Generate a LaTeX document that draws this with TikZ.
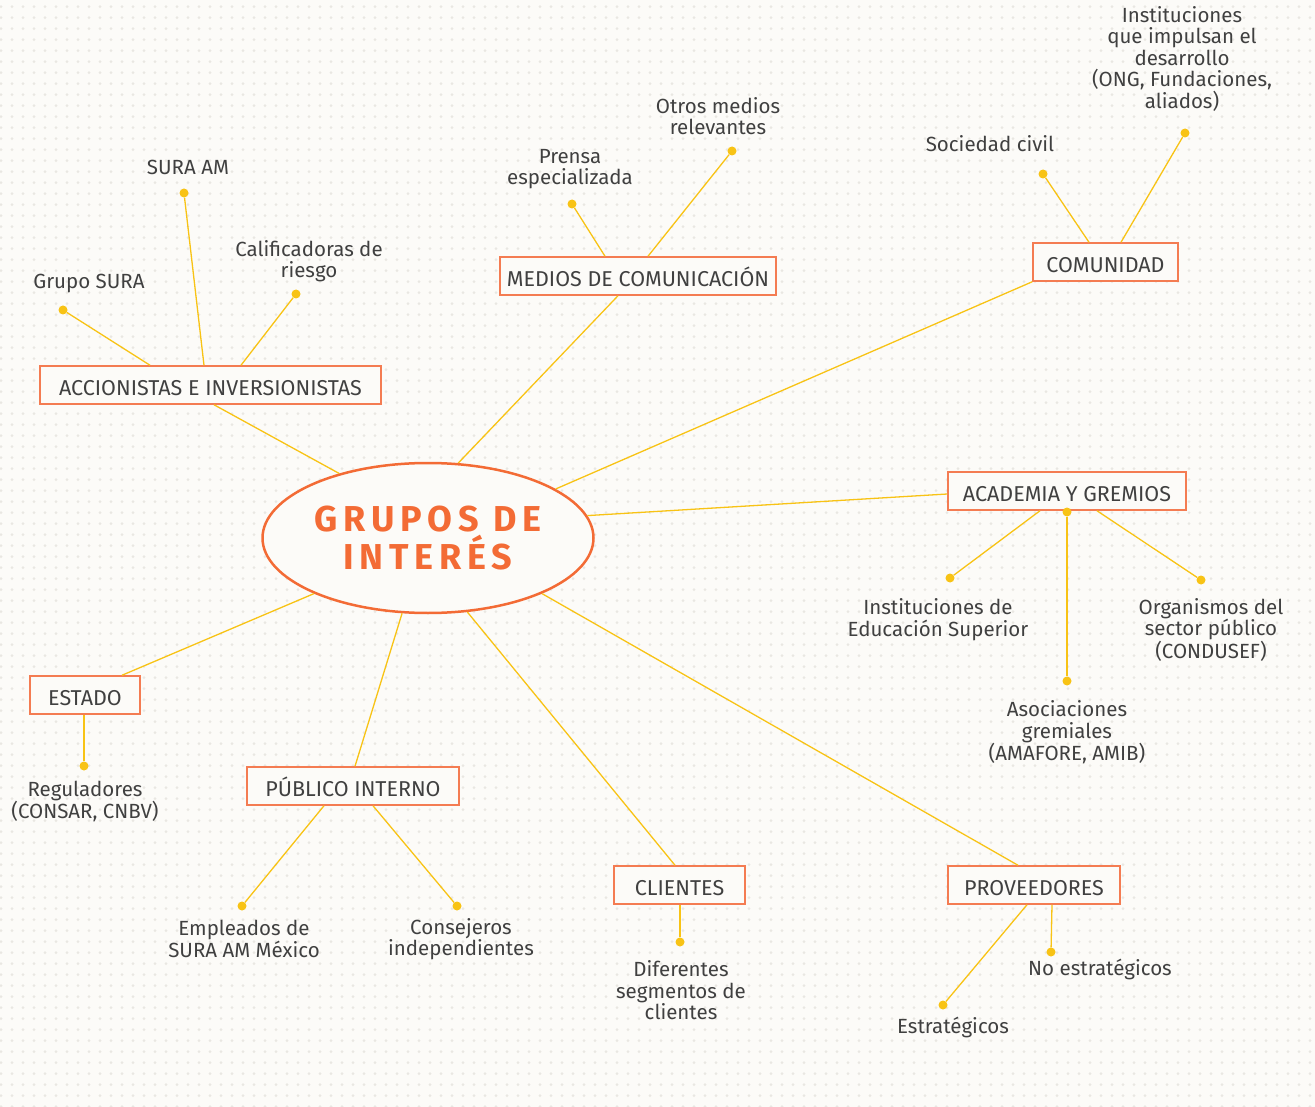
\documentclass[tikz,border=0pt]{standalone}
\usepackage{fontspec}
\setmainfont{Fira Sans}
\usetikzlibrary{shapes.geometric,calc}
\definecolor{bg}{HTML}{FCFBF8}
\definecolor{dotc}{HTML}{E9E7E2}
\definecolor{org}{HTML}{F36B35}
\definecolor{boxc}{HTML}{F47C52}
\definecolor{yel}{HTML}{F8C315}
\definecolor{txt}{HTML}{404040}
\begin{document}
\begin{tikzpicture}[x=1pt,y=-1pt,
 box/.style={draw=boxc, line width=1.5pt, fill=bg, minimum height=38pt, inner sep=0pt, text height=21.5pt, text depth=0pt, text=txt, font=\fontsize{21.5}{24}\selectfont},
 lbl/.style={text=txt, font=\fontsize{20.5}{21.5}\selectfont, align=center, inner sep=0pt},
 link/.style={draw=yel, line width=1.3pt},
 pt/.style={circle, fill=yel, inner sep=0pt, minimum size=9pt}]
\useasboundingbox (0,0) rectangle (1315,1107);
\fill[bg] (0,0) rectangle (1315,1107);
\foreach \i in {0,...,101}{
  \draw[dotc, line width=3pt, line cap=round, dash pattern=on 0pt off 11pt] (1,6.7+\i*11) -- (1320,6.7+\i*11);
}
\node[ellipse, draw=org, line width=2.5pt, fill=bg, minimum width=331pt, minimum height=150pt, inner sep=0pt, align=center, text=org,
  font=\fontsize{36}{38}\selectfont\bfseries\addfontfeature{LetterSpace=16}] (c) at (428,538) {GRUPOS DE\\INTERÉS};

\node[box, minimum width=341pt] (acc) at (210.5,385) {ACCIONISTAS E INVERSIONISTAS};
\node[box, minimum width=276pt] (med) at (638,276) {MEDIOS DE COMUNICACIÓN};
\node[box, minimum width=145pt] (com) at (1105.5,262) {COMUNIDAD};
\node[box, minimum width=238pt] (aca) at (1067,491) {ACADEMIA Y GREMIOS};
\node[box, minimum width=110pt] (est) at (85,695) {ESTADO};
\node[box, minimum width=212pt] (pub) at (353,786) {PÚBLICO INTERNO};
\node[box, minimum width=131pt] (cli) at (679.5,885) {CLIENTES};
\node[box, minimum width=172pt] (pro) at (1034,885) {PROVEEDORES};

\draw[link] (c.144.9) -- ([xshift=3.5pt]acc.south);
\draw[link] (c.68.6) -- ([xshift=-20pt]med.south);
\draw[link] (c.21.4) -- (com.south west);
\draw[link] (c.8.1) -- ([yshift=-3pt]aca.west);
\draw[link] (c.206) -- ([xshift=37pt]est.north);
\draw[link] (c.251.1) -- ([xshift=2pt]pub.north);
\draw[link] (c.298) -- ([xshift=-4.5pt]cli.north);
\draw[link] (c.334.4) -- ([xshift=-16pt]pro.north);

\node[pt] (d1) at (63,310) {};
\node[pt] (d2) at (184,193) {};
\node[pt] (d3) at (296,294) {};
\node[pt] (d4) at (572,204) {};
\node[pt] (d5) at (732,151) {};
\node[pt] (d6) at (1043,174) {};
\node[pt] (d7) at (1185,133) {};
\node[pt] (d8) at (950,578) {};
\node[pt] (d9a) at (1067,512) {};
\node[pt] (d9) at (1067,681) {};
\node[pt] (d10) at (1201,580) {};
\node[pt] (d11) at (84,766) {};
\node[pt] (d12) at (242,906) {};
\node[pt] (d13) at (457,906) {};
\node[pt] (d14) at (680,942) {};
\node[pt] (d15) at (943,1005) {};
\node[pt] (d16) at (1051,952) {};

\draw[link] (d1) -- ([xshift=-60.5pt]acc.north);
\draw[link] (d2) -- ([xshift=-6.5pt]acc.north);
\draw[link] (d3) -- ([xshift=30.5pt]acc.north);
\draw[link] (d4) -- ([xshift=-33pt]med.north);
\draw[link] (d5) -- ([xshift=10pt]med.north);
\draw[link] (d6) -- ([xshift=-16.5pt]com.north);
\draw[link] (d7) -- ([xshift=15.5pt]com.north);
\draw[link] (d8) -- ([xshift=-27pt]aca.south);
\draw[link] (d9a) -- (d9);
\draw[link] (d10) -- ([xshift=30pt]aca.south);
\draw[link] (d11) -- ([xshift=-1pt]est.south);
\draw[link] (d12) -- ([xshift=-29pt]pub.south);
\draw[link] (d13) -- ([xshift=20pt]pub.south);
\draw[link] (d14) -- ([xshift=0.5pt]cli.south);
\draw[link] (d15) -- ([xshift=-7pt]pro.south);
\draw[link] (d16) -- ([xshift=18pt]pro.south);

\node[lbl] (l1) at (89,283) {Grupo SURA};
\node[lbl] (l2) at (188,167) {SURA AM};
\node[lbl] (l3) at (309,261) {Calificadoras de\\riesgo};
\node[lbl] (l4) at (570,169) {Prensa\\especializada};
\node[lbl] (l5) at (718,116) {Otros medios\\relevantes};
\node[lbl] (l6) at (990,144) {Sociedad civil};
\node[lbl] (l7) at (1182,58.5) {Instituciones\\que impulsan el\\desarrollo\\(ONG, Fundaciones,\\aliados)};
\node[lbl] (l8) at (938,619.5) {Instituciones de\\Educación Superior};
\node[lbl] (l9) at (1067,732.5) {Asociaciones\\gremiales\\(AMAFORE, AMIB)};
\node[lbl] (l10) at (1211,630) {Organismos del\\sector público\\(CONDUSEF)};
\node[lbl] (l11) at (85,801.5) {Reguladores\\(CONSAR, CNBV)};
\node[lbl] (l12) at (244,939) {Empleados de\\SURA AM México};
\node[lbl] (l13) at (461,939) {Consejeros\\independientes};
\node[lbl] (l14) at (681,990.5) {Diferentes\\segmentos de\\clientes};
\node[lbl] (l15) at (953,1027) {Estratégicos};
\node[lbl] (l16) at (1100,969) {No estratégicos};
\end{tikzpicture}
\end{document}
